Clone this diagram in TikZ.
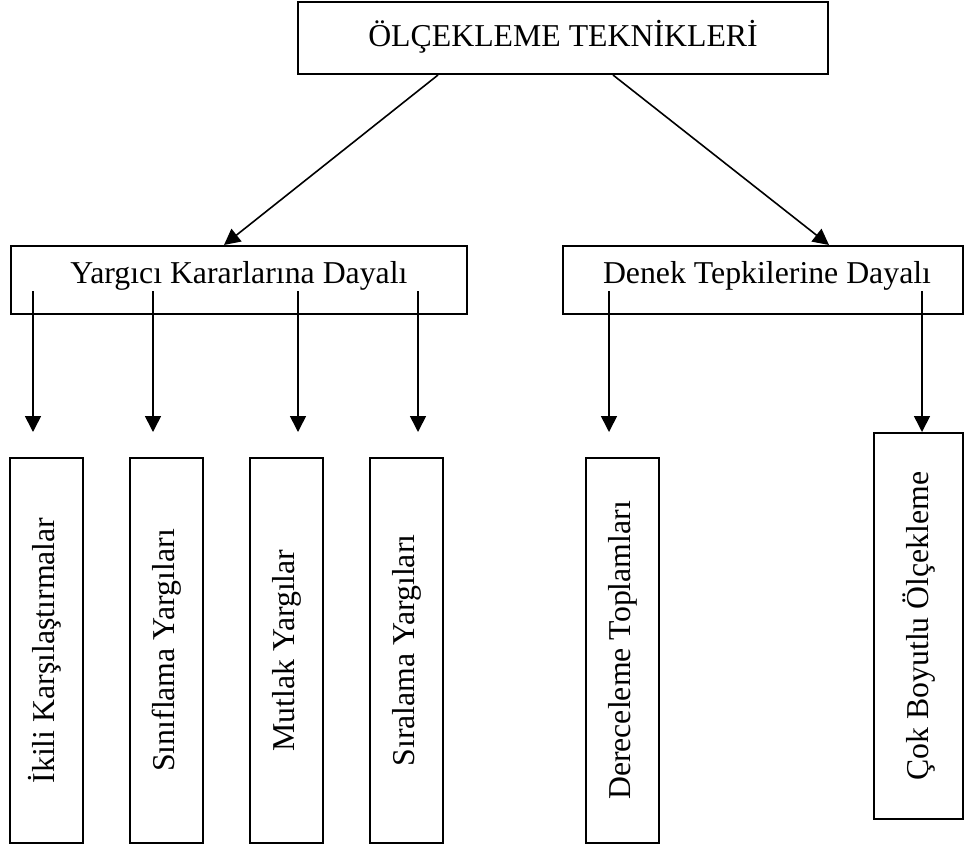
\documentclass[tikz,border=0pt]{standalone}
\usepackage{fontspec}
\setmainfont{Liberation Serif}
\usetikzlibrary{arrows.meta}
\begin{document}
\begin{tikzpicture}[x=1pt,y=-1pt,
  box/.style={draw,line width=2pt,inner sep=0pt},
  lbl/.style={inner sep=0pt,font=\fontsize{31.8}{38}\selectfont},
  vlbl/.style={lbl,rotate=90,text height=22pt,text depth=7pt},
  arr/.style={line width=1.6pt,-{Triangle[width=16pt,length=16pt]}}]
\useasboundingbox (0,0) rectangle (965,849);
% top
\node[box,minimum width=530pt,minimum height=72pt] (top) at (563,38) {};
\node[lbl,anchor=base] (toptxt) at (563,46) {ÖLÇEKLEME TEKNİKLERİ};
% middle
\node[box,minimum width=456pt,minimum height=68pt] (jl) at (239,280) {};
\node[lbl,anchor=base] (jltxt) at (239,283) {Yargıcı Kararlarına Dayalı};
\node[box,minimum width=400pt,minimum height=68pt] (jr) at (763,280) {};
\node[lbl,anchor=base] (jrtxt) at (767,283) {Denek Tepkilerine Dayalı};
% bottom boxes
\node[box,minimum width=73pt,minimum height=385pt] (b1) at (46.5,650.5) {};
\node[box,minimum width=73pt,minimum height=385pt] (b2) at (166.5,650.5) {};
\node[box,minimum width=73pt,minimum height=385pt] (b3) at (286.5,650.5) {};
\node[box,minimum width=73pt,minimum height=385pt] (b4) at (406.5,650.5) {};
\node[box,minimum width=73pt,minimum height=385pt] (b5) at (622.5,650.5) {};
\node[box,minimum width=89pt,minimum height=386pt] (b6) at (918.5,626) {};
\node[vlbl] (t1) at (b1.center) {İkili Karşılaştırmalar};
\node[vlbl] (t2) at (b2.center) {Sınıflama Yargıları};
\node[vlbl] (t3) at (b3.center) {Mutlak Yargılar};
\node[vlbl] (t4) at (b4.center) {Sıralama Yargıları};
\node[vlbl] (t5) at (b5.center) {Dereceleme Toplamları};
\node[vlbl] (t6) at (921,626) {Çok Boyutlu Ölçekleme};
% arrows
\draw[arr] ([xshift=141pt]top.south west) -- ([xshift=214pt]jl.north west);
\draw[arr] ([xshift=316pt]top.south west) -- ([xshift=267pt]jr.north west);
\draw[arr] ([xshift=23pt,yshift=24pt]jl.south west) -- ([xshift=24pt,yshift=25pt]b1.north west);
\draw[arr] ([xshift=143pt,yshift=24pt]jl.south west) -- ([xshift=24pt,yshift=25pt]b2.north west);
\draw[arr] ([xshift=288pt,yshift=24pt]jl.south west) -- ([xshift=49pt,yshift=25pt]b3.north west);
\draw[arr] ([xshift=408pt,yshift=24pt]jl.south west) -- ([xshift=49pt,yshift=25pt]b4.north west);
\draw[arr] ([xshift=47pt,yshift=24pt]jr.south west) -- ([xshift=24pt,yshift=25pt]b5.north west);
\draw[arr] ([xshift=360pt,yshift=24pt]jr.south west) -- ([xshift=49pt]b6.north west);
\end{tikzpicture}
\end{document}
